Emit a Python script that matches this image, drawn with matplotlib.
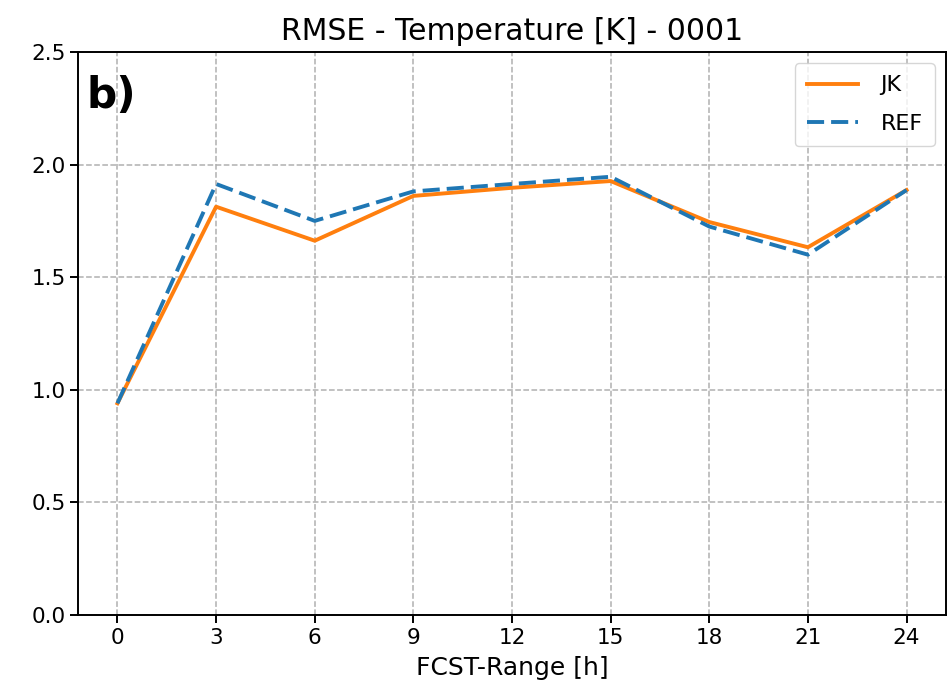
import matplotlib
matplotlib.use("Agg")
import matplotlib.pyplot as plt

# forecast ranges and RMSE values
fcst_range = [0, 3, 6, 9, 12, 15, 18, 21, 24]
rmse_jk = [0.94, 1.813, 1.662, 1.861, 1.897, 1.927, 1.745, 1.633, 1.887]
rmse_ref = [0.94, 1.914, 1.750, 1.881, 1.914, 1.946, 1.725, 1.600, 1.887]

fig = plt.figure(figsize=(9.47, 6.94), dpi=100)
ax = fig.add_axes([78 / 947, 1 - 615 / 694, (946 - 78) / 947, (615 - 52) / 694])

ax.plot(fcst_range, rmse_jk, color='tab:orange', lw=2.8, label='JK')
ax.plot(fcst_range, rmse_ref, color='tab:blue', lw=2.8, ls=(0, (4.4, 1.8)), label='REF')

ax.set_xticks(fcst_range)
ax.set_ylim(0, 2.5)
ax.set_xlim(-1.2, 25.2)
ax.grid(True, ls='--', color='#b0b0b0', lw=1.1)
ax.tick_params(labelsize=15.5, width=1.4, length=5.5)
for sp in ax.spines.values():
    sp.set_linewidth(1.4)

ax.set_title('RMSE - Temperature [K] - 0001', fontsize=21.5, pad=9)
ax.set_xlabel('FCST-Range [h]', fontsize=18, labelpad=6)
ax.text(0.01, 0.9, 'b)', transform=ax.transAxes, fontsize=30.5, fontweight='bold')
ax.legend(loc='upper right', fontsize=16, handlelength=2.3, labelspacing=0.85,
          handletextpad=1.0, borderpad=0.55)

fig.savefig('out.png', dpi=100)
